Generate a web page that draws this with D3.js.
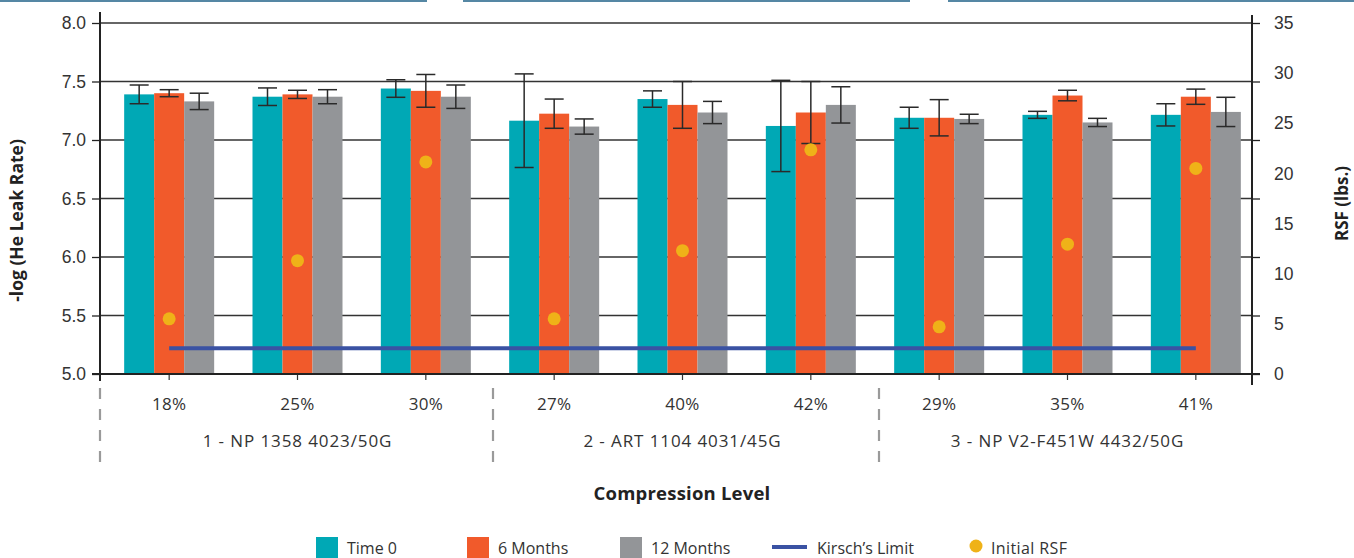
<!DOCTYPE html>
<html>
<head>
<meta charset="utf-8">
<script src="https://cdn.jsdelivr.net/npm/d3@7"></script>
<style>
  html, body { margin: 0; padding: 0; background: #fff; }
  svg { display: block; font-family: "Open Sans", "DejaVu Sans", sans-serif; }
</style>
</head>
<body>
<svg id="chart" width="1354" height="558"></svg>
<script>
// Compression levels per gasket family
const categories = ["18%", "25%", "30%", "27%", "40%", "42%", "29%", "35%", "41%"];
const groups = ["1 - NP 1358 4023/50G", "2 - ART 1104 4031/45G", "3 - NP V2-F451W 4432/50G"];

// -log(He leak rate) means and error half-widths
const time0      = [7.39, 7.37, 7.44, 7.165, 7.35, 7.12, 7.19, 7.215, 7.215];
const time0Err   = [0.08, 0.075, 0.075, 0.40, 0.07, 0.39, 0.09, 0.03, 0.095];
const months6    = [7.40, 7.39, 7.42, 7.225, 7.30, 7.235, 7.19, 7.38, 7.37];
const months6Err = [0.03, 0.035, 0.14, 0.125, 0.20, 0.265, 0.155, 0.045, 0.065];
const months12   = [7.33, 7.37, 7.37, 7.115, 7.235, 7.30, 7.18, 7.15, 7.24];
const months12Err= [0.07, 0.06, 0.10, 0.065, 0.095, 0.155, 0.04, 0.035, 0.125];

// Initial residual seal force (lbs.)
const initialRSF = [5.5, 11.3, 21.15, 5.5, 12.3, 22.35, 4.7, 12.95, 20.5];

// Kirsch's limit on the -log scale
const kirschLimit = 5.22;

const leftTicks  = [5.0, 5.5, 6.0, 6.5, 7.0, 7.5, 8.0];
const rightTicks = [0, 5, 10, 15, 20, 25, 30, 35];

const seriesNames  = ["Time 0", "6 Months", "12 Months"];
const seriesColors = ["#00A8B5", "#F15A2B", "#939598"];
const series = [
  { name: seriesNames[0], values: time0, err: time0Err, color: seriesColors[0] },
  { name: seriesNames[1], values: months6, err: months6Err, color: seriesColors[1] },
  { name: seriesNames[2], values: months12, err: months12Err, color: seriesColors[2] }
];

const svg = d3.select("#chart");
const axisLeftX = 100, axisRightX = 1252;
const plotTop = 23, plotBottom = 374;

const x = d3.scaleBand().domain(categories).range([105, 1260]);
const xs = d3.scaleBand().domain(seriesNames).range([0, 90]);
const y = d3.scaleLinear().domain([5, 8]).range([plotBottom, plotTop]);
const yR = d3.scaleLinear().domain([0, 35]).range([plotBottom, plotTop]);
const cx = c => x(c) + x.bandwidth() / 2;
const groupOffset = (x.bandwidth() - 90) / 2;

// header rules along the top edge
const headerRules = [[0, 427], [463, 910], [948, 1354]];
svg.append("g").selectAll("line").data(headerRules).join("line")
  .attr("x1", d => d[0]).attr("x2", d => d[1])
  .attr("y1", 1).attr("y2", 1)
  .attr("stroke", "#1d5f86").attr("stroke-width", 1.6);

// horizontal gridlines
svg.append("g").selectAll("line").data(leftTicks.slice(1)).join("line")
  .attr("x1", axisLeftX).attr("x2", axisRightX)
  .attr("y1", d => y(d)).attr("y2", d => y(d))
  .attr("stroke", "#333").attr("stroke-width", 1.3);

// bars
const barG = svg.append("g");
series.forEach(s => {
  barG.append("g").selectAll("rect").data(categories).join("rect")
    .attr("x", (c) => x(c) + groupOffset + xs(s.name))
    .attr("width", xs.bandwidth())
    .attr("y", (c, i) => y(s.values[i]))
    .attr("height", (c, i) => y(5) - y(s.values[i]))
    .attr("fill", s.color);
});

// error bars
const errG = svg.append("g").attr("stroke", "#2a2a2a").attr("stroke-width", 1.5);
series.forEach(s => {
  categories.forEach((c, i) => {
    const ex = x(c) + groupOffset + xs(s.name) + xs.bandwidth() / 2;
    const hi = y(s.values[i] + s.err[i]), lo = y(s.values[i] - s.err[i]);
    errG.append("line").attr("x1", ex).attr("x2", ex).attr("y1", hi).attr("y2", lo);
    errG.append("line").attr("x1", ex - 9.5).attr("x2", ex + 9.5).attr("y1", hi).attr("y2", hi);
    errG.append("line").attr("x1", ex - 9.5).attr("x2", ex + 9.5).attr("y1", lo).attr("y2", lo);
  });
});

// Kirsch's limit line
svg.append("line")
  .attr("x1", cx(categories[0])).attr("x2", cx(categories[categories.length - 1]))
  .attr("y1", y(kirschLimit)).attr("y2", y(kirschLimit))
  .attr("stroke", "#3A52A3").attr("stroke-width", 4);

// initial RSF markers
svg.append("g").selectAll("circle").data(categories).join("circle")
  .attr("cx", c => cx(c))
  .attr("cy", (c, i) => yR(initialRSF[i]))
  .attr("r", 6.5)
  .attr("fill", "#EFB218");

// left axis
const leftAxis = svg.append("g").attr("transform", `translate(${axisLeftX},0)`)
  .call(d3.axisLeft(y).tickValues(leftTicks).tickFormat(d3.format(".1f")).tickSize(8).tickPadding(6));
leftAxis.select(".domain").remove();
leftAxis.append("line").attr("x1", 0).attr("x2", 0).attr("y1", 12).attr("y2", 381)
  .attr("stroke", "#222").attr("stroke-width", 2);
leftAxis.selectAll(".tick line").attr("stroke", "#222").attr("stroke-width", 1.3);
leftAxis.selectAll(".tick text").attr("fill", "#333").attr("font-size", 17.5);

// right axis: outward ticks follow the gridlines, labels follow the RSF scale
const rightTickG = svg.append("g").attr("transform", `translate(${axisRightX},0)`)
  .call(d3.axisRight(y).tickValues(leftTicks).tickFormat("").tickSize(8));
rightTickG.select(".domain").remove();
rightTickG.selectAll(".tick line").attr("stroke", "#222").attr("stroke-width", 1.3);
rightTickG.append("line").attr("x1", 0).attr("x2", 0).attr("y1", 15).attr("y2", 385)
  .attr("stroke", "#222").attr("stroke-width", 2);
const rightLabels = svg.append("g").attr("transform", `translate(${axisRightX + 22},0)`)
  .call(d3.axisRight(yR).tickValues(rightTicks).tickSize(0).tickPadding(0));
rightLabels.select(".domain").remove();
rightLabels.selectAll(".tick text").attr("fill", "#333").attr("font-size", 17.5);

// bottom axis
const bottomAxis = svg.append("g").attr("transform", `translate(0,${plotBottom})`)
  .call(d3.axisBottom(x).tickSize(6).tickFormat(""));
bottomAxis.select(".domain").remove();
bottomAxis.append("line").attr("x1", axisLeftX - 8).attr("x2", axisRightX + 8).attr("y1", 0).attr("y2", 0)
  .attr("stroke", "#222").attr("stroke-width", 2);
bottomAxis.selectAll(".tick line").attr("stroke", "#333").attr("stroke-width", 1.2);

// category labels
svg.append("g").selectAll("text").data(categories).join("text")
  .attr("x", c => cx(c)).attr("y", 410)
  .attr("text-anchor", "middle").attr("font-size", 17).attr("fill", "#333")
  .attr("letter-spacing", 0.3)
  .text(c => c);

// group labels and dashed separators
svg.append("g").selectAll("text").data(groups).join("text")
  .attr("x", (g, i) => cx(categories[i * 3 + 1])).attr("y", 447)
  .attr("text-anchor", "middle").attr("font-size", 17).attr("fill", "#333")
  .attr("letter-spacing", 0.9)
  .text(g => g);
const sepX = [axisLeftX,
  (cx(categories[2]) + cx(categories[3])) / 2 + 3,
  (cx(categories[5]) + cx(categories[6])) / 2 + 4];
svg.append("g").selectAll("line").data(sepX).join("line")
  .attr("x1", d => d).attr("x2", d => d)
  .attr("y1", 388).attr("y2", 472)
  .attr("stroke", "#9a9a9a").attr("stroke-width", 2.2)
  .attr("stroke-dasharray", "11,10");

// axis titles
svg.append("text")
  .attr("transform", `translate(23,${(plotTop + plotBottom) / 2 + 22}) rotate(-90)`)
  .attr("text-anchor", "middle").attr("font-size", 17.5).attr("font-weight", "bold").attr("fill", "#222")
  .text("-log (He Leak Rate)");
svg.append("text")
  .attr("transform", `translate(1348,${(plotTop + plotBottom) / 2 + 5}) rotate(-90)`)
  .attr("text-anchor", "middle").attr("font-size", 17).attr("font-weight", "bold").attr("fill", "#222")
  .text("RSF (lbs.)");
svg.append("text")
  .attr("x", 682).attr("y", 500)
  .attr("text-anchor", "middle").attr("font-size", 18.5).attr("font-weight", "bold").attr("fill", "#222")
  .attr("letter-spacing", 0.2)
  .text("Compression Level");

// legend
const legend = svg.append("g");
const legendSwatchX = [316, 467, 620];
series.forEach((s, i) => {
  legend.append("rect").attr("x", legendSwatchX[i]).attr("y", 537).attr("width", 22).attr("height", 22).attr("fill", s.color);
  legend.append("text").attr("x", legendSwatchX[i] + 31).attr("y", 554)
    .attr("font-size", 16).attr("fill", "#333").text(s.name);
});
legend.append("line").attr("x1", 772).attr("x2", 807).attr("y1", 547).attr("y2", 547)
  .attr("stroke", "#3A52A3").attr("stroke-width", 4);
legend.append("text").attr("x", 817).attr("y", 554).attr("font-size", 16).attr("fill", "#333").text("Kirsch’s Limit");
legend.append("circle").attr("cx", 976).attr("cy", 546).attr("r", 6.5).attr("fill", "#EFB218");
legend.append("text").attr("x", 991).attr("y", 554).attr("font-size", 16).attr("fill", "#333")
  .attr("letter-spacing", 0.4).text("Initial RSF");
</script>
</body>
</html>
